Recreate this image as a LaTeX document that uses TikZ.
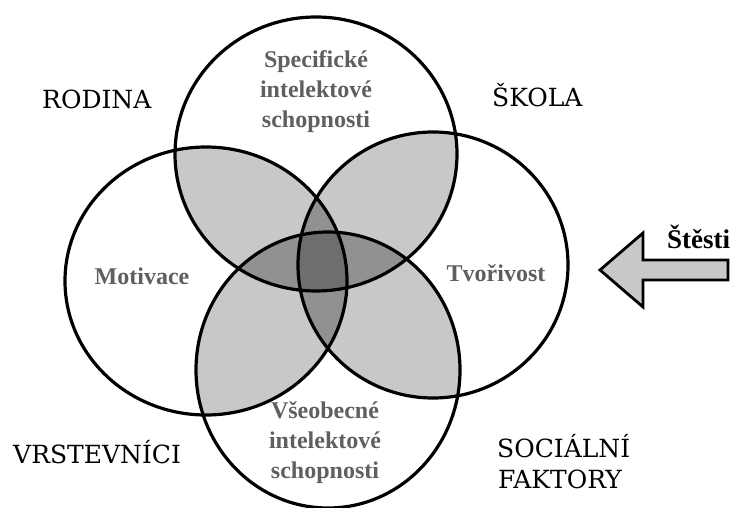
\documentclass[tikz,border=0pt]{standalone}
\usepackage{fontspec}
\setmainfont{Liberation Serif}
\newfontfamily\slabfont{DejaVu Serif}
\definecolor{lightg}{RGB}{200,200,200}
\definecolor{midg}{RGB}{145,145,145}
\definecolor{darkg}{RGB}{110,110,110}
\definecolor{textg}{RGB}{95,95,95}
\tikzset{
  ring/.style={draw=black, line width=3.2pt},
  outerlabel/.style={font=\slabfont\fontsize{25}{30}\selectfont, anchor=base west, inner sep=0pt},
  innerlabel/.style={font=\bfseries\fontsize{24}{30}\selectfont, text=textg, align=center, inner sep=0pt},
  arrowshape/.style={draw=black, fill=lightg, line width=2.8pt, line join=miter}
}
\begin{document}
\begin{tikzpicture}[x=1pt,y=-1pt]
\useasboundingbox (0,0) rectangle (745,508);
\fill[white] (0,0) rectangle (745,508);
\def\pT{(316,154) ellipse [x radius=141pt, y radius=137pt]}
\def\pL{(206,281) ellipse [x radius=141pt, y radius=134pt]}
\def\pR{(433,265) ellipse [x radius=135pt, y radius=133pt]}
\def\pB{(328,370) ellipse [x radius=132pt, y radius=138pt]}
% pairwise overlaps
\begin{scope}\clip \pT; \fill[lightg] \pL; \fill[lightg] \pR; \fill[lightg] \pB; \end{scope}
\begin{scope}\clip \pL; \fill[lightg] \pR; \fill[lightg] \pB; \end{scope}
\begin{scope}\clip \pR; \fill[lightg] \pB; \end{scope}
% triple overlaps
\begin{scope}\clip \pT; \clip \pL; \fill[midg] \pR; \fill[midg] \pB; \end{scope}
\begin{scope}\clip \pT; \clip \pR; \fill[midg] \pB; \end{scope}
\begin{scope}\clip \pL; \clip \pR; \fill[midg] \pB; \end{scope}
% all four
\begin{scope}\clip \pT; \clip \pL; \clip \pR; \fill[darkg] \pB; \end{scope}
% outlines
\draw[ring] \pT;
\draw[ring] \pL;
\draw[ring] \pR;
\draw[ring] \pB;
% inner labels (base = baseline of last line)
\node[innerlabel, anchor=base] (spec) at (316,128) {Specifické\\intelektové\\schopnosti};
\node[innerlabel, anchor=base] (mot) at (142,284) {Motivace};
\node[innerlabel, anchor=base] (tvo) at (496,281) {Tvořivost};
\node[innerlabel, anchor=base] (vseo) at (325,478) {Všeobecné\\intelektové\\schopnosti};
% outer labels
\node[outerlabel] (rod) at (42,109) {RODINA};
\node[outerlabel] (sko) at (492,107) {ŠKOLA};
\node[outerlabel] (vrs) at (13,463) {VRSTEVNÍCI};
\node[outerlabel] (soc) at (497,457) {SOCIÁLNÍ};
\node[outerlabel] (fak) at (498,488) {FAKTORY};
% arrow
\draw[arrowshape] (600,270) -- (643,233) -- (643,260) -- (728,260) -- (728,280) -- (643,280) -- (643,307) -- cycle;
\node[anchor=base west, inner sep=0pt, font=\bfseries\fontsize{27}{30}\selectfont] (stesti) at (667,248) {Štěsti};
\end{tikzpicture}
\end{document}
